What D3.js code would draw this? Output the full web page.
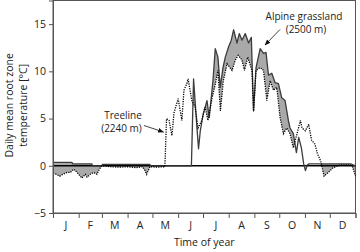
<!DOCTYPE html>
<html>
<head>
<meta charset="utf-8">
<script src="https://cdn.jsdelivr.net/npm/d3@7"></script>
<style>
  body { margin: 0; background: #fff; }
  svg { display: block; font-family: "Open Sans", sans-serif; }
</style>
</head>
<body>
<svg id="chart" width="360" height="252"></svg>
<script>
// month labels and boundaries (day of year)
const months = ["J", "F", "M", "A", "M", "J", "J", "A", "S", "O", "N", "D"];
const monthStarts = [0, 31, 59, 90, 120, 151, 181, 212, 243, 273, 304, 334, 365];
const yTicks = [-5, 0, 5, 10, 15];

// Alpine grassland (2500 m), solid line
const alpineDays = [0, 23, 23.5, 47, 47.5, 59, 59.5, 117, 117.5, 167,
    169.6, 173.7, 175.6, 177.7, 181.3, 185.8, 188.5, 193, 195.8, 199,
    201.8, 205.1, 207.9, 211.9, 215.1, 217.9, 222, 224.8, 228, 232,
    236, 239.3, 242, 245, 250, 254, 257, 260, 264, 268,
    272, 276, 280, 284, 286, 290, 293.7, 296.5, 299.7, 302.5,
    304.6, 307, 309, 359, 365];
const alpineTemp = [0.35, 0.35, 0.2, 0.2, 0, 0, 0.15, 0.15, 0, 0,
    9.2, 4.0, 1.8, 3.7, 5.5, 6.9, 5.1, 9.0, 12.4, 11.5,
    8.3, 10.4, 11.5, 12.6, 13.3, 14.4, 13.0, 14.0, 13.3, 14.0,
    13.0, 13.6, 5.8, 10.4, 12.4, 11.9, 12.0, 9.6, 9.8, 8.8,
    8.7, 7.2, 6.9, 4.8, 4.0, 3.4, 1.4, 3.0, 1.9, 0.2,
    -0.5, 0.1, 0.2, 0.2, 0];

// Treeline (2240 m), dotted line
const treelineDays = [0, 4, 8, 12, 17, 21, 25, 29, 33, 35,
    39, 41, 45, 49, 53, 56, 59, 70, 80, 90,
    100, 108, 111, 113, 115, 117, 125, 135, 137, 140,
    143.5, 146, 151, 155.5, 158, 161.5, 163, 167.5, 171.5, 175,
    179.5, 183.5, 187, 192, 196, 199, 202, 205.5, 210, 216,
    220, 223.5, 228, 231, 235, 240, 242, 245, 250, 254,
    258, 262, 266, 270, 274, 278, 282, 286, 290, 294.5,
    298.5, 300.5, 304.5, 308.5, 312, 316, 319, 323, 327, 331,
    338, 347, 356, 361, 365];
const treelineTemp = [-0.8, -0.9, -1.1, -0.9, -0.7, -0.7, -0.35, -0.7, -1.1, -1.3,
    -0.9, -1.2, -0.9, -0.7, -0.9, -0.35, 0, -0.1, -0.15, -0.1,
    -0.2, -0.1, -0.5, -0.9, -0.5, -0.1, -0.15, -0.1, 5.0, 4.8,
    3.2, 5.6, 7.1, 4.8, 8.0, 8.7, 9.2, 6.9, 6.2, 4.0,
    4.8, 6.2, 4.8, 7.2, 8.7, 10.1, 5.8, 9.0, 10.8, 10.1,
    11.2, 11.7, 11.2, 10.1, 11.5, 10.1, 5.8, 10.1, 10.4, 10.1,
    6.9, 9.0, 8.0, 8.3, 5.1, 3.4, 4.0, 3.4, 1.9, 3.4,
    4.8, 4.0, 3.7, 4.4, 2.7, 2.3, 1.3, 0.5, -1.1, -0.8,
    -0.2, 0.1, 0.1, 0, -1.1];

const alpine = alpineDays.map((d, i) => ({day: d, temp: alpineTemp[i]}));
const treeline = treelineDays.map((d, i) => ({day: d, temp: treelineTemp[i]}));

const margin = {top: 0.5, right: 4.5, bottom: 39, left: 53};
const width = 360 - margin.left - margin.right,
    height = 252 - margin.top - margin.bottom;

const svg = d3.select("#chart")
    .append("g")
    .attr("transform", `translate(${margin.left}, ${margin.top})`);

const xScale = d3.scaleLinear().domain([0, 365]).range([0, width]);
const yScale = d3.scaleLinear().domain([-5, 17.5]).range([height, 0]);

// arrow marker
svg.append("defs").append("marker")
    .attr("id", "arrow")
    .attr("viewBox", "0 0 10 10")
    .attr("refX", 9).attr("refY", 5)
    .attr("markerWidth", 6).attr("markerHeight", 6)
    .attr("markerUnits", "userSpaceOnUse")
    .attr("orient", "auto")
    .append("path")
    .attr("d", "M0,1 L10,5 L0,9 z")
    .attr("fill", "#111");

// fill where alpine is above treeline: area under alpine clipped to area above treeline
svg.select("defs").append("clipPath")
    .attr("id", "aboveTreeline")
    .append("path")
    .datum(treeline)
    .attr("d", d3.area()
        .x(d => xScale(d.day))
        .y0(d => yScale(d.temp))
        .y1(0));

svg.append("path")
    .datum(alpine)
    .attr("clip-path", "url(#aboveTreeline)")
    .attr("fill", "#a9a9a9")
    .attr("d", d3.area()
        .x(d => xScale(d.day))
        .y0(height)
        .y1(d => yScale(d.temp)));

// frame
svg.append("rect")
    .attr("x", 0).attr("y", 0)
    .attr("width", width).attr("height", height)
    .attr("fill", "none")
    .attr("stroke", "#555")
    .attr("stroke-width", 1);

// zero line
svg.append("line")
    .attr("x1", 0).attr("x2", width)
    .attr("y1", yScale(0)).attr("y2", yScale(0))
    .attr("stroke", "#000")
    .attr("stroke-width", 1.4);

// alpine line
svg.append("path")
    .datum(alpine)
    .attr("fill", "none")
    .attr("stroke", "#3c3c3c")
    .attr("stroke-width", 1.3)
    .attr("stroke-linejoin", "round")
    .attr("d", d3.line().x(d => xScale(d.day)).y(d => yScale(d.temp)));

// treeline dotted
svg.append("path")
    .datum(treeline)
    .attr("fill", "none")
    .attr("stroke", "#000")
    .attr("stroke-width", 1.3)
    .attr("stroke-dasharray", "1.2,1.2")
    .attr("d", d3.line().x(d => xScale(d.day)).y(d => yScale(d.temp)));

// Y axis
const yAxis = svg.append("g")
    .call(d3.axisLeft(yScale).tickValues(yTicks).tickSize(4).tickPadding(3));
yAxis.select(".domain").attr("stroke", "#555");
yAxis.selectAll(".tick line").attr("stroke", "#555");
yAxis.selectAll("text").attr("font-size", 10.5).attr("fill", "#222")
    .attr("font-family", "Open Sans");

// X axis: ticks at month boundaries, labels in between
const xAxis = svg.append("g")
    .attr("transform", `translate(0, ${height})`)
    .call(d3.axisBottom(xScale).tickValues(monthStarts).tickSize(5).tickFormat(""));
xAxis.select(".domain").attr("stroke", "#555");
xAxis.selectAll(".tick line").attr("stroke", "#555");

svg.selectAll(".month")
    .data(months)
    .enter()
    .append("text")
    .attr("class", "month")
    .attr("x", (d, i) => xScale((monthStarts[i] + monthStarts[i + 1]) / 2))
    .attr("y", height + 16)
    .attr("text-anchor", "middle")
    .attr("font-size", 10.5)
    .attr("fill", "#222")
    .text(d => d);

svg.append("text")
    .attr("x", width / 2)
    .attr("y", height + 33)
    .attr("text-anchor", "middle")
    .attr("font-size", 10.5)
    .attr("fill", "#222")
    .text("Time of year");

// Y title
const yTitle = svg.append("text")
    .attr("transform", `translate(${-40}, ${yScale(6.4)}) rotate(-90)`)
    .attr("text-anchor", "middle")
    .attr("font-size", 10.5)
    .attr("fill", "#222");
yTitle.append("tspan").attr("x", 0).attr("dy", 0).text("Daily mean root zone");
yTitle.append("tspan").attr("x", 0).attr("dy", 13.5).text("temperature [°C]");

// annotations
const notes = svg.append("g").attr("font-size", 10).attr("fill", "#222")
    .attr("text-anchor", "middle");
notes.append("text").attr("x", 70).attr("y", 118).text("Treeline");
notes.append("text").attr("x", 68.5).attr("y", 131).text("(2240 m)");
notes.append("text").attr("x", 251).attr("y", 19).text("Alpine grassland");
notes.append("text").attr("x", 253).attr("y", 32).text("(2500 m)");

svg.append("line")
    .attr("x1", 91).attr("y1", 125)
    .attr("x2", 110.5).attr("y2", 131.5)
    .attr("stroke", "#111").attr("stroke-width", 0.8)
    .attr("marker-end", "url(#arrow)");
svg.append("line")
    .attr("x1", 227).attr("y1", 29)
    .attr("x2", 212).attr("y2", 44.5)
    .attr("stroke", "#111").attr("stroke-width", 0.8)
    .attr("marker-end", "url(#arrow)");
</script>
</body>
</html>
